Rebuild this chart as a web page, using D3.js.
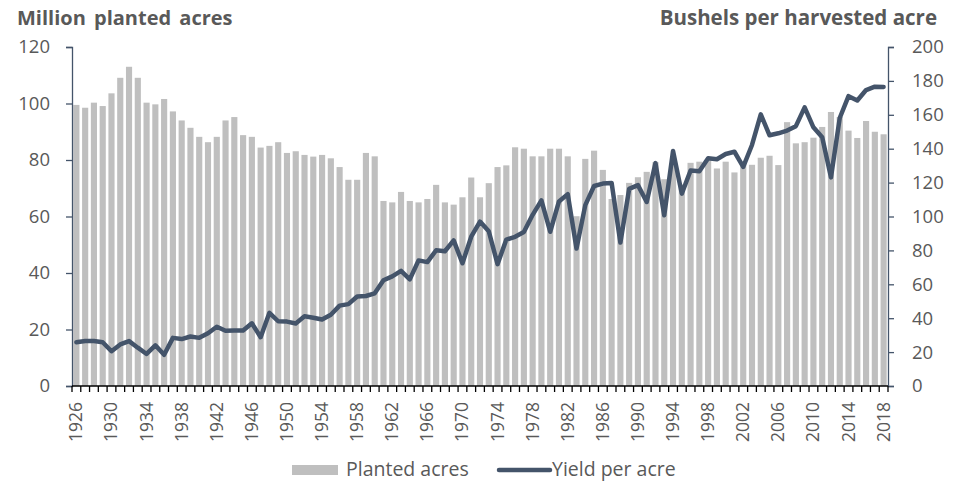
<!DOCTYPE html>
<html>
<head>
<meta charset="utf-8">
<script src="https://cdn.jsdelivr.net/npm/d3@7"></script>
<style>
  body { margin: 0; background: #fff; }
  text { font-family: "Open Sans", sans-serif; fill: #595959; }
</style>
</head>
<body>
<svg id="chart" width="959" height="482"></svg>
<script>
const years = [1926, 1927, 1928, 1929, 1930, 1931, 1932, 1933, 1934, 1935, 1936, 1937, 1938, 1939,
    1940, 1941, 1942, 1943, 1944, 1945, 1946, 1947, 1948, 1949, 1950, 1951, 1952, 1953, 1954,
    1955, 1956, 1957, 1958, 1959, 1960, 1961, 1962, 1963, 1964, 1965, 1966, 1967, 1968, 1969,
    1970, 1971, 1972, 1973, 1974, 1975, 1976, 1977, 1978, 1979, 1980, 1981, 1982, 1983, 1984,
    1985, 1986, 1987, 1988, 1989, 1990, 1991, 1992, 1993, 1994, 1995, 1996, 1997, 1998, 1999,
    2000, 2001, 2002, 2003, 2004, 2005, 2006, 2007, 2008, 2009, 2010, 2011, 2012, 2013, 2014,
    2015, 2016, 2017, 2018];

// million planted acres
const plantedAcres = [99.5, 98.5, 100.3, 99.1, 103.6, 109.1, 113.0, 109.1, 100.3, 99.7, 101.6, 97.2,
    94.0, 91.4, 88.2, 86.3, 88.2, 94.0, 95.2, 88.8, 88.2, 84.4, 85.0, 86.3, 82.5, 83.1, 81.8, 81.2,
    81.8, 80.6, 77.5, 73.0, 73.0, 82.5, 81.3, 65.5, 65.0, 68.7, 65.5, 65.0, 66.2, 71.2, 65.0, 64.2,
    66.8, 73.8, 66.8, 71.8, 77.5, 78.1, 84.5, 84.0, 81.3, 81.3, 84.0, 84.0, 81.3, 60.1, 80.4, 83.3,
    76.5, 66.2, 67.6, 71.9, 73.9, 75.8, 79.2, 73.2, 79.1, 71.3, 79.0, 79.4, 80.1, 77.0, 79.4, 75.6,
    78.8, 78.3, 80.8, 81.5, 78.2, 93.4, 85.9, 86.3, 87.9, 91.7, 97.0, 95.2, 90.4, 87.8, 93.8, 90.0, 89.1];

// bushels per harvested acre
const yieldPerAcre = [25.8, 26.5, 26.5, 25.8, 20.5, 24.5, 26.5, 22.6, 18.9, 24.0, 18.4, 28.4, 27.7,
    29.2, 28.4, 31.1, 35.0, 32.6, 32.8, 32.7, 37.0, 28.8, 43.2, 38.2, 38.0, 36.9, 41.1, 40.3, 39.2,
    42.0, 47.4, 48.3, 52.8, 53.1, 54.7, 62.4, 64.7, 67.9, 62.9, 74.1, 73.1, 80.1, 79.5, 85.9, 72.4,
    88.1, 97.0, 91.3, 71.9, 86.4, 88.0, 90.8, 101.0, 109.5, 91.0, 108.9, 113.2, 81.1, 106.7, 118.0,
    119.4, 119.8, 84.6, 116.3, 118.5, 108.6, 131.5, 100.7, 138.6, 113.5, 127.1, 126.7, 134.4, 133.8,
    136.9, 138.2, 129.3, 142.2, 160.3, 147.9, 149.1, 150.7, 153.3, 164.4, 152.6, 146.8, 123.1, 158.1,
    171.0, 168.4, 174.6, 176.6, 176.4];

const yearTicks = [1926, 1930, 1934, 1938, 1942, 1946, 1950, 1954, 1958, 1962, 1966, 1970, 1974,
    1978, 1982, 1986, 1990, 1994, 1998, 2002, 2006, 2010, 2014, 2018];
const acreTicks = [0, 20, 40, 60, 80, 100, 120];
const yieldTicks = [0, 20, 40, 60, 80, 100, 120, 140, 160, 180, 200];

const plotLeft = 72, plotRight = 888, plotTop = 47, plotBottom = 386;
const barColor = "#bfbfbf";
const lineColor = "#44546a";

const svg = d3.select("#chart");

const x = d3.scaleBand()
    .domain(years)
    .range([plotLeft, plotRight])
    .paddingInner(0.3)
    .paddingOuter(0.15);

const yLeft = d3.scaleLinear().domain([0, 120]).range([plotBottom, plotTop]);
const yRight = d3.scaleLinear().domain([0, 200]).range([plotBottom, plotTop]);

// bars
svg.append("g")
    .selectAll("rect")
    .data(years)
    .enter().append("rect")
    .attr("x", d => x(d))
    .attr("width", x.bandwidth())
    .attr("y", (d, i) => yLeft(plantedAcres[i]))
    .attr("height", (d, i) => plotBottom - yLeft(plantedAcres[i]))
    .attr("fill", barColor);

// left axis
const gl = svg.append("g")
    .attr("transform", `translate(${plotLeft},0)`)
    .call(d3.axisLeft(yLeft).tickValues(acreTicks).tickSize(6).tickPadding(16));
gl.selectAll("path, line").attr("stroke", lineColor).attr("stroke-width", 1.3);
gl.selectAll("text").style("font-size", "18.5px").attr("fill", "#595959");

// right axis
const gr = svg.append("g")
    .attr("transform", `translate(${plotRight},0)`)
    .call(d3.axisRight(yRight).tickValues(yieldTicks).tickSize(6).tickPadding(18));
gr.selectAll("path, line").attr("stroke", lineColor).attr("stroke-width", 1.3);
gr.selectAll("text").style("font-size", "18.5px").attr("fill", "#595959");

// bottom axis with tick marks between categories
const step = (plotRight - plotLeft) / years.length;
const gb = svg.append("g");
gb.append("line")
    .attr("x1", plotLeft).attr("x2", plotRight)
    .attr("y1", plotBottom).attr("y2", plotBottom)
    .attr("stroke", "#000").attr("stroke-width", 1.3);
gb.selectAll("line.tick")
    .data(years.concat([null]))
    .enter().append("line")
    .attr("class", "tick")
    .attr("x1", (d, i) => plotLeft + i * step)
    .attr("x2", (d, i) => plotLeft + i * step)
    .attr("y1", plotBottom)
    .attr("y2", plotBottom + 6)
    .attr("stroke", "#000")
    .attr("stroke-width", 1.3);

gb.selectAll("text")
    .data(yearTicks)
    .enter().append("text")
    .attr("transform", d => `translate(${x(d) + x.bandwidth() / 2 + 6},${plotBottom + 16}) rotate(-90)`)
    .attr("text-anchor", "end")
    .style("font-size", "17.5px")
    .text(d => d);

// yield line
const line = d3.line()
    .x((d, i) => x(years[i]) + x.bandwidth() / 2)
    .y(d => yRight(d));

svg.append("path")
    .datum(yieldPerAcre)
    .attr("d", line)
    .attr("fill", "none")
    .attr("stroke", lineColor)
    .attr("stroke-width", 4.5)
    .attr("stroke-linejoin", "round")
    .attr("stroke-linecap", "round");

// axis titles
svg.append("text")
    .attr("x", 17).attr("y", 25)
    .style("font-size", "20px").style("font-weight", "bold")
    .style("word-spacing", "3px")
    .text("Million planted acres");

svg.append("text")
    .attr("x", 937).attr("y", 25)
    .attr("text-anchor", "end")
    .style("font-size", "20.5px").style("font-weight", "bold")
    .text("Bushels per harvested acre");

// legend
const legend = svg.append("g");
legend.append("rect")
    .attr("x", 292).attr("y", 465).attr("width", 46).attr("height", 10)
    .attr("fill", barColor);
legend.append("text")
    .attr("x", 346).attr("y", 476)
    .style("font-size", "19.5px")
    .text("Planted acres");
legend.append("line")
    .attr("x1", 499).attr("x2", 550).attr("y1", 470).attr("y2", 470)
    .attr("stroke", lineColor).attr("stroke-width", 4.5).attr("stroke-linecap", "round");
legend.append("text")
    .attr("x", 552).attr("y", 476)
    .style("font-size", "19.5px")
    .text("Yield per acre");
</script>
</body>
</html>
